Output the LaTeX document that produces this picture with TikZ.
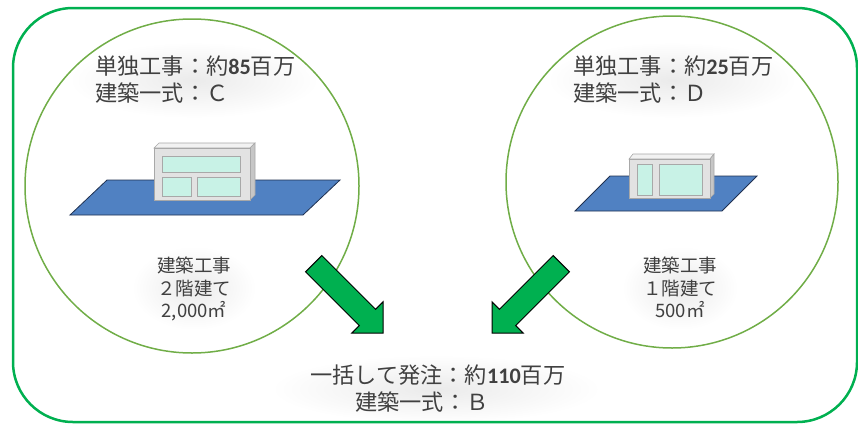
\documentclass[tikz,border=0pt]{standalone}
\usepackage{fontspec}
\newfontfamily\jp{Noto Sans CJK JP}
\newfontfamily\latnum{Carlito}
\definecolor{framegreen}{HTML}{00B050}
\definecolor{ringgreen}{HTML}{70AD47}
\definecolor{arrowgreen}{HTML}{00B050}
\definecolor{lotblue}{HTML}{5081C2}
\definecolor{lotedge}{HTML}{1F3050}
\definecolor{inkgray}{HTML}{404040}
\definecolor{wallgray}{HTML}{E2E2E2}
\definecolor{walltop}{HTML}{F2F2F2}
\definecolor{wallside}{HTML}{C6C6C6}
\definecolor{wallline}{HTML}{A8A8A8}
\definecolor{glass}{HTML}{C8F2E6}
\begin{document}
\begin{tikzpicture}[x=1pt,y=-1pt,
  frame/.style={draw=framegreen, line width=2.5pt, rounded corners=60pt},
  ring/.style={draw=ringgreen, line width=1.5pt},
  lot/.style={fill=lotblue, draw=lotedge, line width=0.8pt},
  wall/.style={fill=wallgray, draw=wallline, line width=0.6pt},
  walltopface/.style={fill=walltop, draw=wallline, line width=0.6pt},
  wallsideface/.style={fill=wallside, draw=wallline, line width=0.6pt},
  pane/.style={fill=glass, draw=wallline, line width=1pt},
  glow/.style={inner color=black!8, outer color=white},
  head/.style={font=\jp\fontsize{22.2}{26}\selectfont, text=inkgray, inner sep=0pt},
  note/.style={font=\jp\fontsize{18.5}{22}\selectfont, text=inkgray, inner sep=0pt},
  bigarrow/.style={fill=arrowgreen, draw=black, line width=1pt, line join=miter}
]
\useasboundingbox (0,0) rectangle (858,423);

% soft halos behind the captions
\shade[glow] (194,80) ellipse [x radius=125pt, y radius=38pt];
\shade[glow] (672,80) ellipse [x radius=125pt, y radius=38pt];
\shade[glow] (194,288) ellipse [x radius=62pt, y radius=42pt];
\shade[glow] (680,288) ellipse [x radius=58pt, y radius=42pt];
\shade[glow] (436,389) ellipse [x radius=165pt, y radius=34pt];

% outer frame and the two project circles
\draw[frame] (13,8) rectangle (857,422);
\draw[ring] (192,186) circle [radius=167pt];
\draw[ring] (672,182) circle [radius=166pt];

% left site: lot and two-storey building
\draw[lot] (107,180) -- (340,180) -- (303,215) -- (70,215) -- cycle;
\draw[walltopface] (154,148) -- (159,143) -- (255,143) -- (250,148) -- cycle;
\draw[wallsideface] (250,148) -- (255,143) -- (255,195) -- (250,200) -- cycle;
\draw[wall] (154,148) rectangle (250,200);
\draw[pane] (162,156) rectangle (240,172);
\draw[pane] (162,177) rectangle (191,196);
\draw[pane] (197,177) rectangle (240,196);

% right site: lot and one-storey building
\draw[lot] (610,176) -- (757,176) -- (722,211) -- (575,211) -- cycle;
\draw[walltopface] (629,159) -- (633,154) -- (714,154) -- (710,159) -- cycle;
\draw[wallsideface] (710,159) -- (714,154) -- (714,194) -- (710,198) -- cycle;
\draw[wall] (629,159) rectangle (710,198);
\draw[pane] (637,164) rectangle (652,195);
\draw[pane] (659,164) rectangle (702,195);

% block arrows towards the combined order
\begin{scope}[shift={(383,333)}, rotate=-45]
  \draw[bigarrow] (0,0) -- (-22,22) -- (-22,11.5) -- (-98,11.5) -- (-98,-11.5)
    -- (-22,-11.5) -- (-22,-22) -- cycle;
\end{scope}
\begin{scope}[shift={(492,333)}, rotate=-135]
  \draw[bigarrow] (0,0) -- (-22,22) -- (-22,11.5) -- (-98,11.5) -- (-98,-11.5)
    -- (-22,-11.5) -- (-22,-22) -- cycle;
\end{scope}

% captions, left circle
\node[head, anchor=base west] (lcost) at (95,74) {単独工事：約{\latnum\bfseries 85}百万};
\node[head, anchor=base west] (lgrade) at (95,101) {建築一式：Ｃ};
\node[note, anchor=base] (lkind) at (194,272) {建築工事};
\node[note, anchor=base] (lfloor) at (194,295) {２階建て};
\node[note, anchor=base] (larea) at (194,317) {2,000㎡};

% captions, right circle
\node[head, anchor=base west] (rcost) at (573,74) {単独工事：約{\latnum\bfseries 25}百万};
\node[head, anchor=base west] (rgrade) at (573,101) {建築一式：Ｄ};
\node[note, anchor=base] (rkind) at (680,272) {建築工事};
\node[note, anchor=base] (rfloor) at (680,295) {１階建て};
\node[note, anchor=base] (rarea) at (680,317) {500㎡};

% combined order
\node[head, anchor=base west] (bcost) at (310,383) {一括して発注：約{\latnum\bfseries 110}百万};
\node[head, anchor=base west] (bgrade) at (355,410) {建築一式：Ｂ};
\end{tikzpicture}
\end{document}
